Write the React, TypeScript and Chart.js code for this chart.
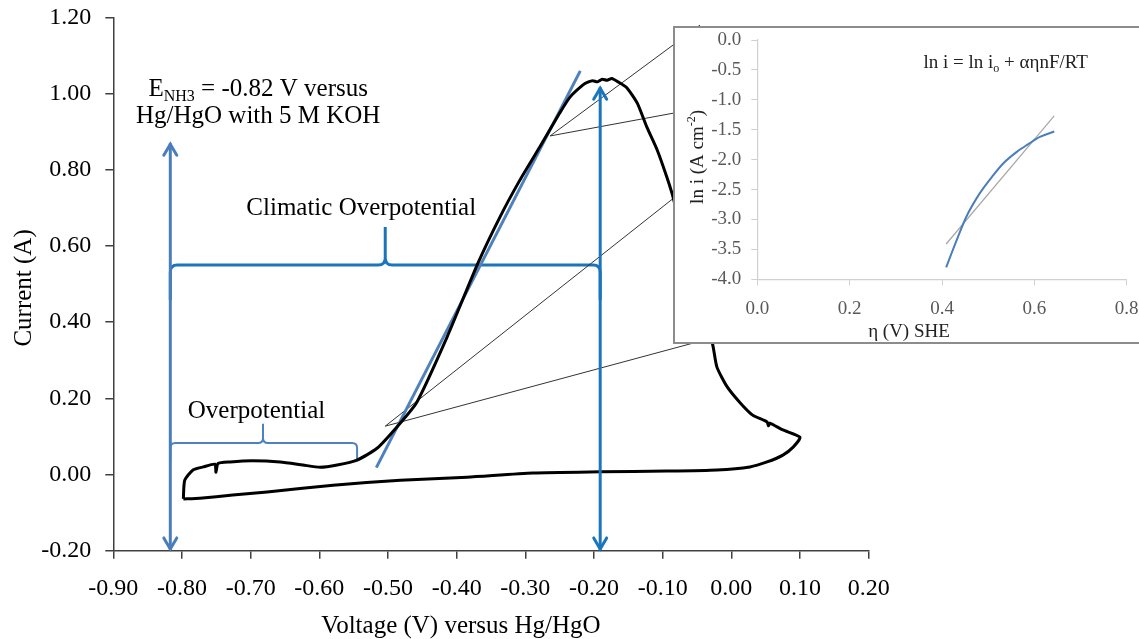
import React, { useEffect, useRef } from "react";
import { Chart, registerables } from "chart.js";

Chart.register(...registerables);

const SERIF = "'Liberation Serif', 'Times New Roman', serif";

// ---- main cyclic voltammogram (V vs Hg/HgO, A) ----
const cvVoltage = [-0.798, -0.796, -0.784, -0.769, -0.752, -0.7505, -0.7475, -0.730, -0.698, -0.657, -0.624, -0.599, -0.574, -0.545, -0.516, -0.487, -0.458, -0.414, -0.369, -0.337, -0.308, -0.279, -0.250, -0.235, -0.216, -0.209, -0.202, -0.195, -0.188, -0.181, -0.174, -0.165, -0.152, -0.137, -0.123, -0.108, -0.094, -0.085, -0.060, -0.037, -0.027, -0.021, -0.006, 0.013, 0.031, 0.052, 0.054, 0.056, 0.075, 0.100, 0.090, 0.075, 0.052, 0.027, -0.021, -0.094, -0.191, -0.289, -0.385, -0.482, -0.580, -0.676, -0.726, -0.774, -0.798];
const cvCurrent = [-0.064, -0.015, 0.012, 0.020, 0.027, 0.006, 0.029, 0.033, 0.036, 0.033, 0.025, 0.019, 0.025, 0.038, 0.069, 0.125, 0.190, 0.361, 0.555, 0.676, 0.773, 0.860, 0.949, 0.991, 1.023, 1.030, 1.034, 1.031, 1.038, 1.035, 1.040, 1.031, 1.015, 0.975, 0.912, 0.852, 0.781, 0.729, 0.550, 0.406, 0.340, 0.282, 0.230, 0.188, 0.156, 0.138, 0.128, 0.135, 0.117, 0.098, 0.072, 0.051, 0.033, 0.020, 0.012, 0.009, 0.007, 0.004, -0.007, -0.015, -0.028, -0.046, -0.054, -0.062, -0.064];

// tangent line
const tangentVoltage = [-0.517, -0.220];
const tangentCurrent = [0.018, 1.060];

// vertical double arrows
const arrowVoltage = [-0.817, -0.191];
const arrowTop = [0.870, 1.017];
const arrowBottom = [-0.198, -0.198];

// braces: [Climatic, Overpotential]
const braceStart = [-0.817, -0.817];
const braceEnd = [-0.191, -0.545];
const braceMid = [-0.504, -0.682];
const braceLevel = [0.550, 0.083];
const braceTip = [0.650, 0.133];
const braceFoot = [0.458, 0.035];

// zoom connector lines to inset
const connFromV = [-0.264, -0.264, -0.504, -0.504];
const connFromI = [0.889, 0.889, 0.127, 0.127];
const connToV = [-0.0456, -0.060, -0.060, -0.0456];
const connToI = [1.180, 0.957, 0.760, 0.350];

// ---- inset Tafel plot ----
const tafelEta = [0.409, 0.432, 0.453, 0.482, 0.511, 0.533, 0.562, 0.587, 0.612, 0.643];
const tafelLnI = [-3.80, -3.34, -2.95, -2.56, -2.26, -2.06, -1.87, -1.74, -1.62, -1.53];
const fitEta = [0.409, 0.643];
const fitLnI = [-3.41, -1.27];

const mainXTicks = { min: -0.9, max: 0.2, step: 0.1 };
const mainYTicks = { min: -0.2, max: 1.2, step: 0.2 };
const insetXTicks = { min: 0, max: 0.8, step: 0.2 };
const insetYTicks = { min: -4, max: 0, step: 0.5 };

const ARROW_COLORS = ["#4A7EBB", "#1B75BC"];
const BRACE_COLORS = ["#1B75BC", "#4F81BD"];
const BRACE_WIDTHS = [3, 2];

type Seg = { text: string; size: number; dy: number };

function richText(ctx: CanvasRenderingContext2D, segs: Seg[], x: number, y: number, align: string) {
  let total = 0;
  for (const s of segs) {
    ctx.font = `${s.size}px ${SERIF}`;
    total += ctx.measureText(s.text).width;
  }
  let cx = align === "center" ? x - total / 2 : x;
  ctx.textAlign = "left";
  for (const s of segs) {
    ctx.font = `${s.size}px ${SERIF}`;
    ctx.fillText(s.text, cx, y + s.dy);
    cx += ctx.measureText(s.text).width;
  }
}

function fmt(v: number, d: number) {
  const n = Math.abs(v) < 1e-9 ? 0 : v;
  return n.toFixed(d);
}

function noPad(s: any) {
  s.paddingTop = 0;
  s.paddingBottom = 0;
  s.paddingLeft = 0;
  s.paddingRight = 0;
}

const mainAnno = {
  id: "mainAnno",
  beforeDatasetsDraw(chart: any) {
    const { ctx, scales } = chart;
    const X = (v: number) => scales.x.getPixelForValue(v);
    const Y = (v: number) => scales.y.getPixelForValue(v);
    ctx.save();
    for (let i = 0; i < braceStart.length; i++) {
      const x0 = X(braceStart[i]), x1 = X(braceEnd[i]), xm = X(braceMid[i]);
      const yl = Y(braceLevel[i]), yt = Y(braceTip[i]), yf = Y(braceFoot[i]);
      const r = i === 0 ? 7 : 5;
      ctx.strokeStyle = BRACE_COLORS[i];
      ctx.lineWidth = BRACE_WIDTHS[i];
      ctx.lineJoin = "round";
      ctx.beginPath();
      ctx.moveTo(x0, yf);
      ctx.lineTo(x0, yl + r);
      ctx.quadraticCurveTo(x0, yl, x0 + r, yl);
      ctx.lineTo(xm - r, yl);
      ctx.quadraticCurveTo(xm, yl, xm, yl - r);
      ctx.lineTo(xm, yt);
      ctx.moveTo(xm, yl - r);
      ctx.quadraticCurveTo(xm, yl, xm + r, yl);
      ctx.lineTo(x1 - r, yl);
      ctx.quadraticCurveTo(x1, yl, x1, yl + r);
      ctx.lineTo(x1, yf);
      ctx.stroke();
    }
    ctx.restore();
  },
  afterDatasetsDraw(chart: any) {
    const { ctx, scales } = chart;
    const X = (v: number) => scales.x.getPixelForValue(v);
    const Y = (v: number) => scales.y.getPixelForValue(v);
    ctx.save();
    // arrow heads
    for (let i = 0; i < arrowVoltage.length; i++) {
      const ax = X(arrowVoltage[i]), t = Y(arrowTop[i]), b = Y(arrowBottom[i]);
      ctx.strokeStyle = ARROW_COLORS[i];
      ctx.lineWidth = 3;
      ctx.lineCap = "round";
      ctx.lineJoin = "miter";
      ctx.beginPath();
      ctx.moveTo(ax - 6.5, t + 12);
      ctx.lineTo(ax, t + 1);
      ctx.lineTo(ax + 6.5, t + 12);
      ctx.stroke();
      ctx.beginPath();
      ctx.moveTo(ax - 6.5, b - 12);
      ctx.lineTo(ax, b - 1);
      ctx.lineTo(ax + 6.5, b - 12);
      ctx.stroke();
    }
    // texts
    ctx.fillStyle = "#000";
    ctx.textBaseline = "alphabetic";
    richText(ctx, [
      { text: "E", size: 25, dy: 0 },
      { text: "NH3", size: 16, dy: 5 },
      { text: " = -0.82 V versus", size: 25, dy: 0 },
    ], X(-0.689), Y(0.994), "center");
    richText(ctx, [{ text: "Hg/HgO with 5 M KOH", size: 25, dy: 0 }], X(-0.689), Y(0.923), "center");
    richText(ctx, [{ text: "Climatic Overpotential", size: 25, dy: 0 }], X(-0.539), Y(0.681), "center");
    richText(ctx, [{ text: "Overpotential", size: 25, dy: 0 }], X(-0.6915), Y(0.148), "center");
    // axis titles
    richText(ctx, [{ text: "Voltage (V) versus Hg/HgO", size: 25, dy: 0 }], X(-0.3937), Y(-0.416), "center");
    ctx.translate(X(-1.03), Y(0.49));
    ctx.rotate(-Math.PI / 2);
    ctx.textBaseline = "middle";
    richText(ctx, [{ text: "Current (A)", size: 25, dy: 0 }], 0, 0, "center");
    ctx.restore();
  },
};

const insetAnno = {
  id: "insetAnno",
  afterDatasetsDraw(chart: any) {
    const { ctx, scales } = chart;
    const X = (v: number) => scales.x.getPixelForValue(v);
    const Y = (v: number) => scales.y.getPixelForValue(v);
    ctx.save();
    ctx.fillStyle = "#222";
    ctx.textBaseline = "alphabetic";
    richText(ctx, [
      { text: "ln i = ln i", size: 19, dy: 0 },
      { text: "o", size: 12, dy: 4 },
      { text: " + \u03b1\u03b7nF/RT", size: 19, dy: 0 },
    ], X(0.36), Y(-0.468), "left");
    richText(ctx, [{ text: "\u03b7 (V) SHE", size: 19, dy: 0 }], X(0.3285), Y(-4.96), "center");
    ctx.translate(X(-0.128), Y(-1.955));
    ctx.rotate(-Math.PI / 2);
    ctx.textBaseline = "middle";
    richText(ctx, [
      { text: "ln i (A cm", size: 19, dy: 0 },
      { text: "-2", size: 12, dy: -6 },
      { text: ")", size: 19, dy: 0 },
    ], 0, 0, "center");
    ctx.restore();
  },
};

function line(xs: number[], ys: number[]) {
  return xs.map((x, i) => ({ x, y: ys[i] }));
}

export default function App() {
  const mainRef = useRef<HTMLCanvasElement>(null);
  const insetRef = useRef<HTMLCanvasElement>(null);

  useEffect(() => {
    const datasets: any[] = [];
    arrowVoltage.forEach((v, i) => {
      datasets.push({
        data: [{ x: v, y: arrowTop[i] }, { x: v, y: arrowBottom[i] }],
        showLine: true, borderColor: ARROW_COLORS[i], borderWidth: 3, pointRadius: 0,
      });
    });
    datasets.push({
      data: line(cvVoltage, cvCurrent),
      showLine: true, borderColor: "#000", borderWidth: 3, pointRadius: 0, tension: 0.2,
      borderJoinStyle: "round",
    });
    datasets.push({
      data: line(tangentVoltage, tangentCurrent),
      showLine: true, borderColor: "#4F81BD", borderWidth: 3, pointRadius: 0,
    });
    connFromV.forEach((v, i) => {
      datasets.push({
        data: [{ x: v, y: connFromI[i] }, { x: connToV[i], y: connToI[i] }],
        showLine: true, borderColor: "#333", borderWidth: 1, pointRadius: 0,
      });
    });

    const tickFont = { family: SERIF, size: 24 };
    const main = new Chart(mainRef.current as HTMLCanvasElement, {
      type: "scatter",
      data: { datasets },
      options: {
        responsive: false,
        animation: false,
        events: [],
        layout: { padding: { left: 0, top: 17.5, right: 270.3, bottom: 0 } },
        plugins: { legend: { display: false }, tooltip: { enabled: false } },
        scales: {
          x: {
            type: "linear", min: mainXTicks.min, max: mainXTicks.max,
            ticks: { stepSize: mainXTicks.step, callback: (v: any) => fmt(Number(v), 2), font: tickFont, color: "#000", padding: 16, maxRotation: 0, autoSkip: false },
            grid: { drawOnChartArea: false, tickLength: 8, color: "#404040", lineWidth: 1.5 },
            border: { color: "#404040", width: 1.5 },
            afterFit: (s: any) => { s.height = 88.3; noPad(s); },
          },
          y: {
            type: "linear", min: mainYTicks.min, max: mainYTicks.max,
            ticks: { stepSize: mainYTicks.step, callback: (v: any) => fmt(Number(v), 2), font: tickFont, color: "#000", padding: 14, autoSkip: false },
            grid: { drawOnChartArea: false, tickLength: 8, color: "#404040", lineWidth: 1.5 },
            border: { color: "#404040", width: 1.5 },
            afterFit: (s: any) => { s.width = 113.3; noPad(s); },
          },
        },
      } as any,
      plugins: [mainAnno],
    });

    const insetFont = { family: SERIF, size: 19 };
    const inset = new Chart(insetRef.current as HTMLCanvasElement, {
      type: "scatter",
      data: {
        datasets: [
          { data: line(tafelEta, tafelLnI), showLine: true, borderColor: "#4A7EBB", borderWidth: 2, pointRadius: 0, cubicInterpolationMode: "monotone" },
          { data: line(fitEta, fitLnI), showLine: true, borderColor: "#A6A6A6", borderWidth: 1.2, pointRadius: 0 },
        ],
      },
      options: {
        responsive: false,
        animation: false,
        events: [],
        layout: { padding: { left: 0, top: 13, right: 27.3, bottom: 0 } },
        plugins: { legend: { display: false }, tooltip: { enabled: false } },
        scales: {
          x: {
            type: "linear", min: insetXTicks.min, max: insetXTicks.max,
            ticks: { stepSize: insetXTicks.step, callback: (v: any) => fmt(Number(v), 1), font: insetFont, color: "#595959", padding: 12, maxRotation: 0, autoSkip: false },
            grid: { drawOnChartArea: false, tickLength: 6, color: "#D0D0D0", lineWidth: 1 },
            border: { color: "#D0D0D0", width: 1.2 },
            afterFit: (s: any) => { s.height = 63.7; noPad(s); },
          },
          y: {
            type: "linear", min: insetYTicks.min, max: insetYTicks.max,
            ticks: { stepSize: insetYTicks.step, callback: (v: any) => fmt(Number(v), 1), font: insetFont, color: "#595959", padding: 10, autoSkip: false },
            grid: { drawOnChartArea: false, tickLength: 6, color: "#D0D0D0", lineWidth: 1 },
            border: { color: "#D0D0D0", width: 1.2 },
            afterFit: (s: any) => { s.width = 83.3; noPad(s); },
          },
        },
      } as any,
      plugins: [insetAnno],
    });

    return () => {
      main.destroy();
      inset.destroy();
    };
  }, []);

  return (
    <div style={{ position: "fixed", left: 0, top: 0, width: 1139, height: 639, overflow: "hidden", background: "#fff" }}>
      <canvas ref={mainRef} width={1139} height={639} style={{ position: "absolute", left: 0, top: 0, width: 1139, height: 639 }} />
      <div style={{ position: "absolute", left: 673, top: 26, width: 490, height: 318, boxSizing: "border-box", border: "2px solid #8C8C8C", background: "#fff" }} />
      <canvas ref={insetRef} width={480} height={316} style={{ position: "absolute", left: 674, top: 27, width: 480, height: 316 }} />
    </div>
  );
}
